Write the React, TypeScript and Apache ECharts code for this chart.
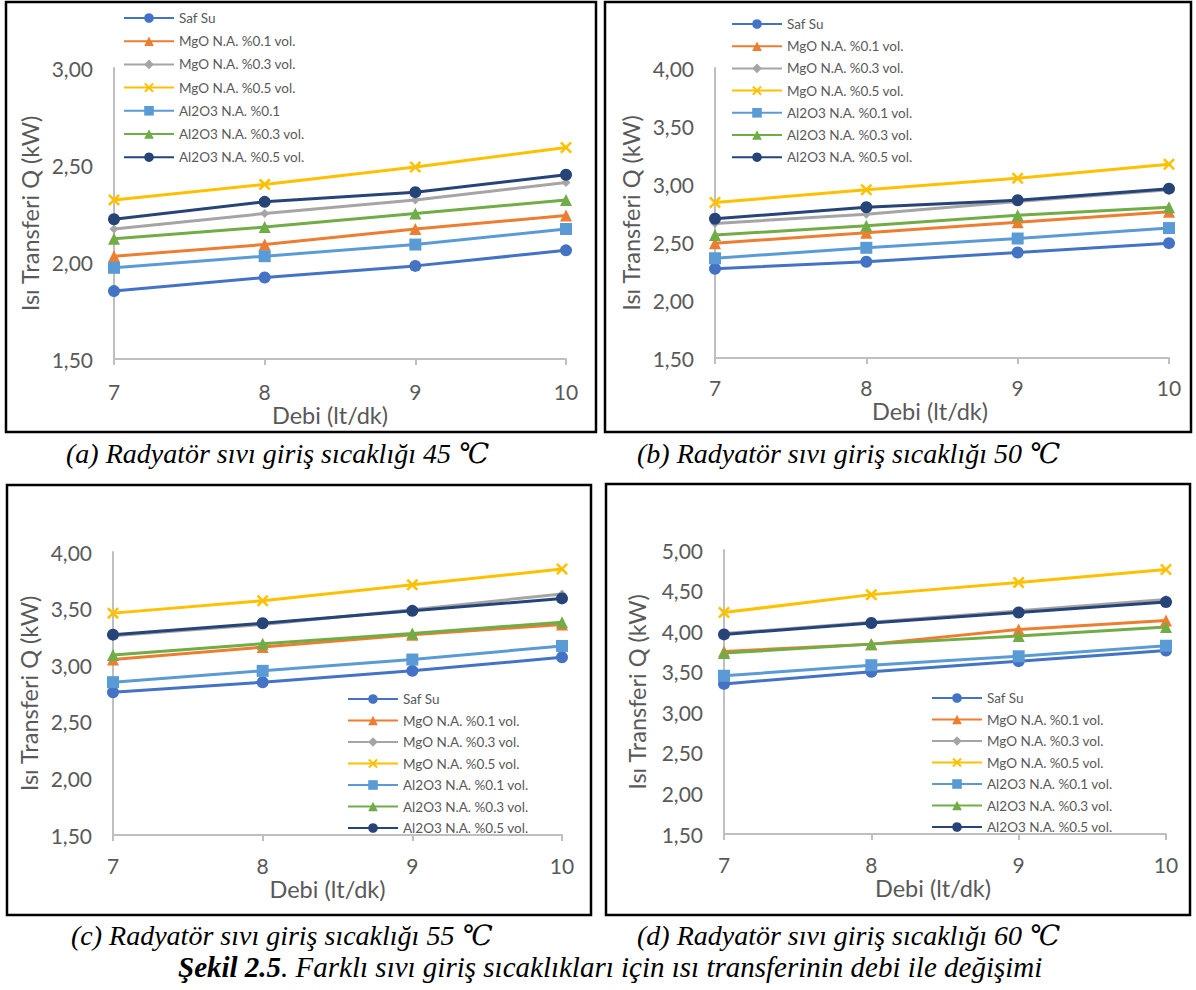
import React, { useEffect, useRef } from "react";
import * as echarts from "echarts";

// ---------- data ----------
const debi = [7, 8, 9, 10];

const safSu45 = [1.85, 1.92, 1.98, 2.06];
const mgo01_45 = [2.03, 2.09, 2.17, 2.24];
const mgo03_45 = [2.17, 2.25, 2.32, 2.41];
const mgo05_45 = [2.32, 2.4, 2.49, 2.59];
const al01_45 = [1.97, 2.03, 2.09, 2.17];
const al03_45 = [2.12, 2.18, 2.25, 2.32];
const al05_45 = [2.22, 2.31, 2.36, 2.45];

const safSu50 = [2.27, 2.33, 2.41, 2.49];
const mgo01_50 = [2.49, 2.58, 2.67, 2.76];
const mgo03_50 = [2.66, 2.74, 2.85, 2.95];
const mgo05_50 = [2.84, 2.95, 3.05, 3.17];
const al01_50 = [2.36, 2.45, 2.53, 2.62];
const al03_50 = [2.56, 2.64, 2.73, 2.8];
const al05_50 = [2.7, 2.8, 2.86, 2.96];

const safSu55 = [2.76, 2.85, 2.95, 3.07];
const mgo01_55 = [3.05, 3.16, 3.27, 3.36];
const mgo03_55 = [3.26, 3.36, 3.49, 3.63];
const mgo05_55 = [3.46, 3.57, 3.71, 3.85];
const al01_55 = [2.85, 2.95, 3.05, 3.17];
const al03_55 = [3.09, 3.19, 3.28, 3.38];
const al05_55 = [3.27, 3.37, 3.48, 3.59];

const safSu60 = [3.35, 3.5, 3.63, 3.76];
const mgo01_60 = [3.75, 3.84, 4.02, 4.13];
const mgo03_60 = [3.97, 4.11, 4.25, 4.39];
const mgo05_60 = [4.23, 4.45, 4.6, 4.76];
const al01_60 = [3.45, 3.58, 3.69, 3.82];
const al03_60 = [3.73, 3.84, 3.94, 4.05];
const al05_60 = [3.96, 4.1, 4.23, 4.36];

const namesA = [
  "Saf Su",
  "MgO N.A. %0.1 vol.",
  "MgO N.A. %0.3 vol.",
  "MgO N.A. %0.5 vol.",
  "Al2O3 N.A. %0.1",
  "Al2O3 N.A. %0.3 vol.",
  "Al2O3 N.A. %0.5 vol.",
];
const namesB = [
  "Saf Su",
  "MgO N.A. %0.1 vol.",
  "MgO N.A. %0.3 vol.",
  "MgO N.A. %0.5 vol.",
  "Al2O3 N.A. %0.1 vol.",
  "Al2O3 N.A. %0.3 vol.",
  "Al2O3 N.A. %0.5 vol.",
];

const yMin = [1.5, 1.5, 1.5, 1.5];
const yMax = [3.0, 4.0, 4.0, 5.0];

const captions = [
  "(a) Radyatör sıvı giriş sıcaklığı 45 ℃",
  "(b) Radyatör sıvı giriş sıcaklığı 50 ℃",
  "(c) Radyatör sıvı giriş sıcaklığı 55 ℃",
  "(d) Radyatör sıvı giriş sıcaklığı 60 ℃",
];
const figureCaptionBold = "Şekil 2.5";
const figureCaptionRest = ". Farklı sıvı giriş sıcaklıkları için ısı transferinin debi ile değişimi";

const xTitle = "Debi (lt/dk)";
const yTitle = "Isı Transferi Q (kW)";

// ---------- styles ----------
const colors = ["#4472C4", "#ED7D31", "#A5A5A5", "#FFC000", "#5B9BD5", "#70AD47", "#264478"];
const crossPath =
  "path://M0,1.5 L1.5,0 L5,3.5 L8.5,0 L10,1.5 L6.5,5 L10,8.5 L8.5,10 L5,6.5 L1.5,10 L0,8.5 L3.5,5 Z";
const symbols = ["circle", "triangle", "diamond", crossPath, "rect", "triangle", "circle"];
const symbolSizes = [12, 12, 9, 12, 12, 12, 12];

const FONT = "Lato, 'Liberation Sans', sans-serif";
const SERIF = "'Liberation Serif', 'DejaVu Serif', serif";

const panelData = [
  [safSu45, mgo01_45, mgo03_45, mgo05_45, al01_45, al03_45, al05_45],
  [safSu50, mgo01_50, mgo03_50, mgo05_50, al01_50, al03_50, al05_50],
  [safSu55, mgo01_55, mgo03_55, mgo05_55, al01_55, al03_55, al05_55],
  [safSu60, mgo01_60, mgo03_60, mgo05_60, al01_60, al03_60, al05_60],
];
const panelNames = [namesA, namesB, namesB, namesB];

const grids = [
  { left: 114, top: 68, width: 452, height: 291 },
  { left: 715, top: 68, width: 454, height: 290 },
  { left: 113, top: 552, width: 449, height: 283 },
  { left: 724, top: 550, width: 442, height: 284 },
];
const xLabelMargin = [22, 19, 20, 20];
const xNameGap = [31, 35, 40, 40];
const xNameShift = [20, 24, 20, 24];
const yNameGap = [72, 72, 72, 75];
const legendPos = [
  { left: 123, top: 10, gap: 7.2 },
  { left: 731, top: 16, gap: 6.2 },
  { left: 347, top: 691, gap: 5.5 },
  { left: 931, top: 690, gap: 5.5 },
];
const borders = [
  { x: 6, y: 2, w: 590, h: 430 },
  { x: 605, y: 2, w: 586, h: 430 },
  { x: 7, y: 485, w: 584, h: 430 },
  { x: 606, y: 484, w: 584, h: 431 },
];
const captionPos = [
  { x: 66, y: 453 },
  { x: 637, y: 453 },
  { x: 71, y: 935 },
  { x: 637, y: 935 },
];

export default function App() {
  const ref = useRef<HTMLDivElement>(null);

  useEffect(() => {
    if (!ref.current) return;
    const chart = echarts.init(ref.current, undefined, { renderer: "svg" });

    const fmt = (v: number) => v.toFixed(2).replace(".", ",");

    const xAxis = grids.map((_, i) => ({
      type: "value",
      gridIndex: i,
      min: 7,
      max: 10,
      interval: 1,
      name: xTitle,
      nameLocation: "middle",
      nameGap: xNameGap[i],
      nameTextStyle: {
        color: "#595959",
        fontSize: 23.5,
        fontFamily: FONT,
        padding: [0, xNameShift[i], 0, 0],
      },
      axisLine: { show: true, lineStyle: { color: "#BFBFBF", width: 2 } },
      axisTick: { show: true, length: 6, lineStyle: { color: "#BFBFBF", width: 2 } },
      axisLabel: { color: "#595959", fontSize: 21, fontFamily: FONT, margin: xLabelMargin[i] },
      splitLine: { show: false },
    }));

    const yAxis = grids.map((_, i) => ({
      type: "value",
      gridIndex: i,
      min: yMin[i],
      max: yMax[i],
      interval: 0.5,
      name: yTitle,
      nameLocation: "middle",
      nameGap: yNameGap[i],
      nameRotate: 90,
      nameTextStyle: { color: "#595959", fontSize: 23.5, fontFamily: FONT },
      axisLine: { show: true, lineStyle: { color: "#BFBFBF", width: 2 } },
      axisTick: { show: false },
      axisLabel: { color: "#595959", fontSize: 21, fontFamily: FONT, margin: 21, formatter: fmt },
      splitLine: { show: false },
    }));

    const series: any[] = [];
    panelData.forEach((arrs, p) => {
      arrs.forEach((vals, s) => {
        series.push({
          type: "line",
          name: panelNames[p][s],
          xAxisIndex: p,
          yAxisIndex: p,
          data: vals.map((v, k) => [debi[k], v]),
          symbol: symbols[s],
          symbolSize: symbolSizes[s],
          showSymbol: true,
          lineStyle: { color: colors[s], width: 3 },
          itemStyle: { color: colors[s], borderColor: colors[s], borderWidth: 0 },
          emphasis: { disabled: true },
        });
      });
    });

    const legend = legendPos.map((lp, i) => ({
      show: true,
      orient: "vertical",
      left: lp.left,
      top: lp.top,
      padding: 0,
      itemGap: lp.gap,
      itemWidth: 50,
      itemHeight: 12,
      selectedMode: false,
      data: panelNames[i],
      textStyle: { color: "#595959", fontSize: 13.5, fontFamily: FONT, lineHeight: 16 },
    }));

    const graphic: any[] = [];
    borders.forEach((b) => {
      graphic.push({
        type: "rect",
        shape: { x: b.x, y: b.y, width: b.w, height: b.h },
        style: { fill: "none", stroke: "#000", lineWidth: 2.5 },
        silent: true,
      });
    });
    captions.forEach((c, i) => {
      graphic.push({
        type: "text",
        x: captionPos[i].x,
        y: captionPos[i].y,
        style: {
          text: c,
          fill: "#000",
          font: `italic 28px ${SERIF}`,
          textAlign: "left",
          textVerticalAlign: "middle",
        },
        silent: true,
      });
    });
    graphic.push({
      type: "text",
      x: 178,
      y: 967,
      style: {
        text: `{b|${figureCaptionBold}}{r|${figureCaptionRest}}`,
        textAlign: "left",
        textVerticalAlign: "middle",
        rich: {
          b: { font: `italic bold 29px ${SERIF}`, fill: "#000" },
          r: { font: `italic 29px ${SERIF}`, fill: "#000" },
        },
      },
      silent: true,
    });

    chart.setOption({
      animation: false,
      backgroundColor: "#fff",
      grid: grids.map((g) => ({ ...g, containLabel: false })),
      xAxis,
      yAxis,
      legend,
      series,
      graphic,
    } as any);

    return () => chart.dispose();
  }, []);

  return (
    <div
      ref={ref}
      style={{ position: "fixed", left: 0, top: 0, width: 1196, height: 990, background: "#fff" }}
    />
  );
}
